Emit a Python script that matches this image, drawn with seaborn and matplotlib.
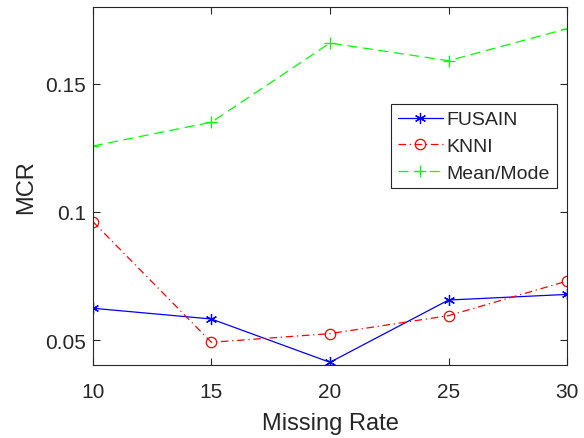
import matplotlib
matplotlib.use("Agg")
import matplotlib.pyplot as plt
import seaborn as sns
import pandas as pd

missing_rate = [10, 15, 20, 25, 30]
fusain = [0.0624, 0.0582, 0.0413, 0.0656, 0.0678]
knni = [0.0962, 0.0491, 0.0525, 0.0595, 0.0730]
mean_mode = [0.1257, 0.1350, 0.1659, 0.1590, 0.1715]
series_names = ["FUSAIN", "KNNI", "Mean/Mode"]

sns.set_theme(style="white")
plt.rcParams['font.family'] = ['Liberation Sans', 'DejaVu Sans']

fig = plt.figure(figsize=(5.84, 4.39), dpi=100)
ax = fig.add_axes([0.159, 0.166, 0.812, 0.816])

axc = (0.15, 0.15, 0.15)
styles = [
    dict(color=(0, 0, 1), linestyle='-', marker=(6, 2, 0), ms=8, mfc=(0, 0, 1)),
    dict(color=(1, 0, 0), linestyle=(0, (6, 3, 1, 3)), marker='o', ms=7.5, mfc='none'),
    dict(color=(0, 1, 0), linestyle=(0, (8, 4.5)), marker='+', ms=9, mfc='none'),
]
for name, vals, st in zip(series_names, [fusain, knni, mean_mode], styles):
    df = pd.DataFrame({"x": missing_rate, "y": vals})
    sns.lineplot(data=df, x="x", y="y", ax=ax, color=st['color'], linestyle=st['linestyle'],
                 marker=st['marker'], markersize=st['ms'], markerfacecolor=st['mfc'],
                 markeredgecolor=st['color'], markeredgewidth=0.9, linewidth=0.9,
                 label=name)

ax.set_xlim(10, 30)
ax.set_ylim(0.0402, 0.180)
ax.set_xticks([10, 15, 20, 25, 30])
ax.set_yticks([0.05, 0.1, 0.15])
ax.set_yticklabels(["0.05", "0.1", "0.15"])
ax.set_xlabel("Missing Rate", fontsize=17, color=axc, labelpad=8)
ax.set_ylabel("MCR", fontsize=17, color=axc, labelpad=6)
ax.tick_params(direction='in', length=5, width=0.8, colors=axc, labelsize=15,
               top=True, right=True, bottom=True, left=True)
ax.tick_params(axis='x', pad=12)
ax.tick_params(axis='y', pad=5)
for s in ax.spines.values():
    s.set_color(axc)
    s.set_linewidth(0.8)
    s.set_visible(True)

leg = ax.legend(loc='upper left', bbox_to_anchor=(0.629, 0.729), fontsize=14,
                frameon=True, fancybox=False, edgecolor=axc, framealpha=1,
                borderpad=0.35, labelspacing=0.46, handlelength=2.3, handletextpad=0.2,
                borderaxespad=0)
leg.get_frame().set_linewidth(0.8)

fig.savefig("out.png", dpi=100)
